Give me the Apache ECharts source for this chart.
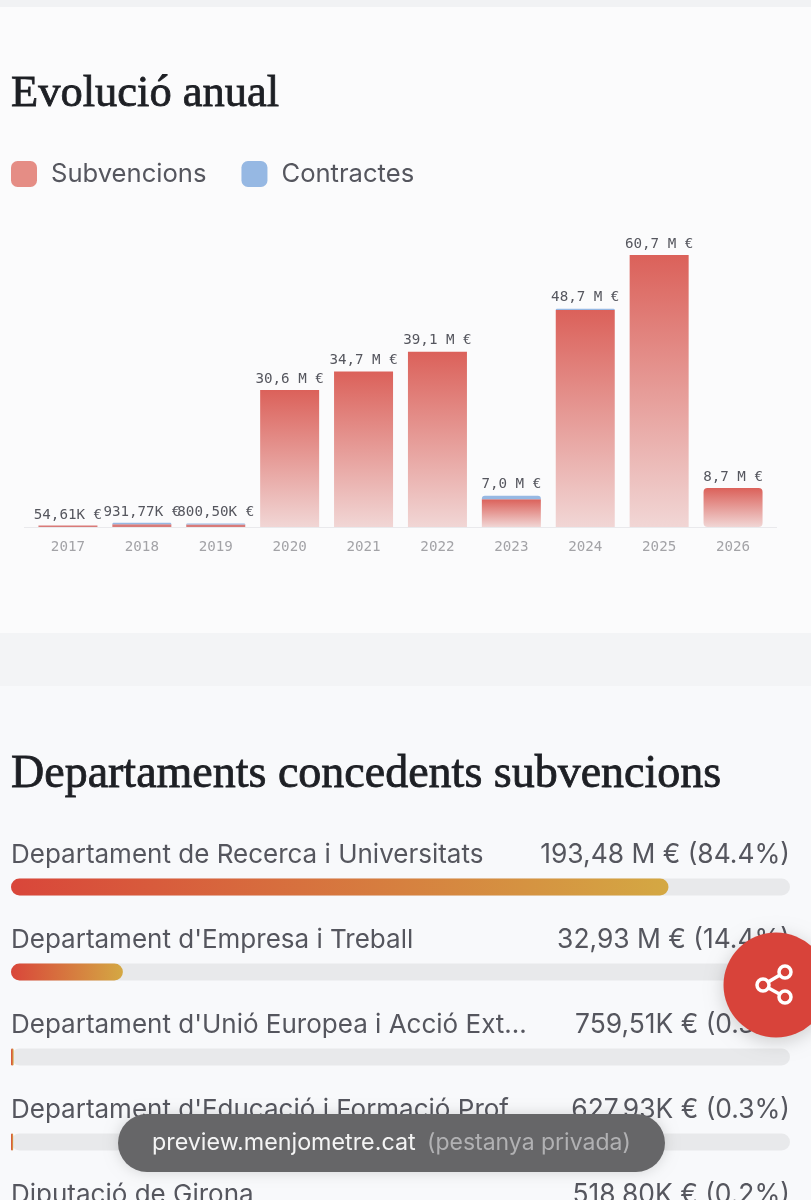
<!DOCTYPE html>
<html>
<head>
<meta charset="utf-8">
<title>Evolució anual</title>
<script src="https://cdn.jsdelivr.net/npm/echarts@6/dist/echarts.min.js"></script>
<style>
html,body{margin:0;padding:0;background:#f8f9fb;}
#chart{width:811px;height:1200px;}
</style>
</head>
<body>
<div id="chart"></div>
<script>
var years = ['2017','2018','2019','2020','2021','2022','2023','2024','2025','2026'];
// milions d'euros
var subvencions = [0.05461,0.63,0.55,30.6,34.7,39.1,6.2,48.4,60.7,8.7];
var contractes = [0,0.30,0.25,0,0,0,0.8,0.3,0,0];
var totalLabels = ['54,61K €','931,77K €','800,50K €','30,6 M €','34,7 M €','39,1 M €','7,0 M €','48,7 M €','60,7 M €','8,7 M €'];

var deptNames = ['Departament de Recerca i Universitats',"Departament d'Empresa i Treball","Departament d'Unió Europea i Acció Ext...","Departament d'Educació i Formació Prof...",'Diputació de Girona'];
var deptValues = [193.48,32.93,0.75951,0.62793,0.5188];
var deptLabels = ['193,48 M € (84.4%)','32,93 M € (14.4%)','759,51K € (0.3%)','627,93K € (0.3%)','518,80K € (0.2%)'];
var deptTotal = 229.24;

var serif = '"Liberation Serif", serif';
var mono = '"DejaVu Sans Mono", monospace';
var sans = 'Inter, "Noto Sans", sans-serif';
var textColor = '#55565e';

function vGradient() {
    return new echarts.graphic.LinearGradient(0,0,0,1,[{offset:0,color:'#db615a'},{offset:1,color:'#f1d6d5'}]);
}

var myChart = echarts.init(document.getElementById('chart'), null, {renderer:'canvas'});

var option = {
    animation: false,
    backgroundColor: '#f8f9fb',
    title: [
        {text:'Evolució anual', left:11, top:72, padding:0, textStyle:{fontFamily:serif, fontSize:44.5, fontWeight:'normal', color:'#1d1f24', textBorderColor:'#1d1f24', textBorderWidth:0.8}},
        {text:'Departaments concedents subvencions', left:11, top:752, padding:0, textStyle:{fontFamily:serif, fontSize:46, fontWeight:'normal', color:'#1d1f24', textBorderColor:'#1d1f24', textBorderWidth:0.8}}
    ],
    legend: {
        left: 11,
        top: 161,
        padding: 0,
        itemWidth: 26,
        itemHeight: 26,
        itemGap: 35,
        textStyle: {fontFamily:sans, fontSize:25.6, color:textColor, padding:[2,0,0,9]},
        data: [
            {name:'Subvencions', icon:'roundRect', itemStyle:{color:'#e58d85'}},
            {name:'Contractes', icon:'roundRect', itemStyle:{color:'#96b8e3'}}
        ]
    },
    grid: [
        {left:31, width:739, top:255, height:272},
        {left:11, width:779, top:844.5, height:425, outerBoundsMode:'none'}
    ],
    xAxis: [
        {
            type:'category', gridIndex:0, data:years,
            axisLine:{show:false}, axisTick:{show:false},
            axisLabel:{fontFamily:mono, fontSize:14.2, color:'#a3a3a7', margin:13}
        },
        {type:'value', gridIndex:1, min:0, max:deptTotal, show:false}
    ],
    yAxis: [
        {type:'value', gridIndex:0, min:0, max:60.7, show:false},
        {type:'category', gridIndex:1, data:deptNames, inverse:true, show:false}
    ],
    series: [
        {
            name:'Subvencions', type:'bar', stack:'total', xAxisIndex:0, yAxisIndex:0, barWidth:59, barMinHeight:1.5,
            data: subvencions.map(function (v, i) {
                return {
                    value:v,
                    itemStyle:{color: v < 1 ? '#d97a78' : vGradient(), borderRadius: years[i]==='2026' ? 4 : 0}
                };
            })
        },
        {
            name:'Contractes', type:'bar', stack:'total', xAxisIndex:0, yAxisIndex:0, barWidth:59,
            itemStyle:{color:'#96b8e3', borderRadius:[3,3,0,0]},
            label:{
                show:true, position:'top', distance:4,
                fontFamily:mono, fontSize:14.2, color:textColor,
                formatter:function (p) { return totalLabels[p.dataIndex]; }
            },
            data: contractes
        },
        {
            name:'Departaments', type:'bar', xAxisIndex:1, yAxisIndex:1, barWidth:17, z:3,
            showBackground:true,
            backgroundStyle:{color:'#e8e9eb', borderRadius:8.5},
            itemStyle:{
                borderRadius:8.5,
                color:new echarts.graphic.LinearGradient(0,0,1,0,[{offset:0,color:'#d9463a'},{offset:1,color:'#d4a843'}])
            },
            label:{
                show:true, position:[0,-23], align:'left', verticalAlign:'middle',
                fontFamily:sans, fontSize:26, color:textColor,
                formatter:function (p) { return deptNames[p.dataIndex]; }
            },
            data: deptValues
        },
        {
            name:'Imports', type:'bar', xAxisIndex:1, yAxisIndex:1, barWidth:17, barGap:'-100%', z:3,
            itemStyle:{color:'transparent'},
            silent:true,
            label:{
                show:true, position:['100%',-23], align:'right', verticalAlign:'middle',
                fontFamily:sans, fontSize:26.4, color:textColor,
                formatter:function (p) { return deptLabels[p.dataIndex]; }
            },
            data: deptValues.map(function () { return deptTotal; })
        }
    ],
    graphic: [
        // fons de les seccions
        {type:'rect', z:-10, shape:{x:0,y:0,width:811,height:7}, style:{fill:'#f1f2f4'}},
        {type:'rect', z:-10, shape:{x:0,y:7,width:811,height:626}, style:{fill:'#fbfbfc'}},
        {type:'rect', z:-10, shape:{x:0,y:633,width:811,height:53}, style:{fill:'#f3f4f6'}},
        // linia base
        {type:'rect', z:1, shape:{x:24,y:527,width:753,height:1}, style:{fill:'#e9e9ec'}},
        // boto compartir
        {
            type:'group', z:100,
            children:[
                {type:'circle', z:100, shape:{cx:776,cy:985,r:52.5}, style:{fill:'#d8433a', shadowBlur:18, shadowColor:'rgba(0,0,0,0.18)', shadowOffsetY:4}},
                {type:'line', z:101, shape:{x1:763,y1:985,x2:785,y2:972}, style:{stroke:'#fff', lineWidth:3.5}},
                {type:'line', z:101, shape:{x1:763,y1:985,x2:785,y2:997}, style:{stroke:'#fff', lineWidth:3.5}},
                {type:'circle', z:102, shape:{cx:785,cy:972,r:6}, style:{fill:'#d8433a', stroke:'#fff', lineWidth:3.5}},
                {type:'circle', z:102, shape:{cx:763,cy:985,r:6}, style:{fill:'#d8433a', stroke:'#fff', lineWidth:3.5}},
                {type:'circle', z:102, shape:{cx:785,cy:997,r:6}, style:{fill:'#d8433a', stroke:'#fff', lineWidth:3.5}}
            ]
        },
        // barra de l'adreça
        {type:'rect', z:100, shape:{x:118,y:1114,width:547,height:58,r:29}, style:{fill:'#666668', shadowBlur:14, shadowColor:'rgba(0,0,0,0.15)'}},
        {type:'text', z:101, x:152, y:1143, style:{text:'preview.menjometre.cat', fontFamily:sans, fontSize:23.3, fill:'#f4f4f4', verticalAlign:'middle'}},
        {type:'text', z:101, x:427, y:1143, style:{text:'(pestanya privada)', fontFamily:sans, fontSize:23, fill:'#b1b1b3', verticalAlign:'middle'}}
    ]
};
myChart.setOption(option);
</script>
</body>
</html>
